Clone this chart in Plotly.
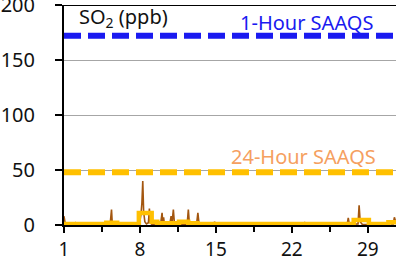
import plotly.graph_objects as go

# ---- data ----
x_tick_days = [1, 8, 15, 22, 29]
y_ticks = [0, 50, 100, 150, 200]

# hourly SO2 (ppb): day-of-month position and value
hourly_day = [1.0, 1.04, 1.12, 1.3, 1.9, 2.05, 2.2, 4.0, 5.25, 5.38, 5.45, 5.6, 7.0,
              7.95, 8.1, 8.18, 8.26, 8.34, 8.45, 8.6, 8.78, 8.87, 8.95, 9.1, 9.3, 9.4,
              9.5, 9.9, 10.04, 10.1, 10.18, 10.25, 10.35, 10.75, 10.87, 10.95, 11.08,
              11.18, 11.4, 12.35, 12.46, 12.56, 13.22, 13.34, 13.45, 14.8, 14.88, 14.96,
              18.0, 20.8, 20.9, 21.0, 23.1, 23.2, 23.3, 25.0, 27.1, 27.2, 27.3, 28.1,
              28.2, 28.3, 28.4, 28.5, 30.0, 30.9, 31.05, 31.2, 31.35, 31.45, 31.6]
hourly_ppb = [8, 3, 0.5, 0.3, 0.3, 2, 0.3, 0.3, 0.3, 14, 1, 0.3, 0.3,
              0.5, 10, 20, 40, 12, 3, 1, 2, 15, 2, 0.5, 0.5, 3,
              0.5, 0.5, 11, 2, 7, 1, 0.5, 0.5, 8, 1, 14,
              1, 0.5, 0.5, 14, 0.5, 0.5, 11, 0.5, 0.5, 3, 0.5,
              0.3, 0.3, 1.5, 0.3, 0.3, 2, 0.3, 0.3, 0.5, 6.5, 0.5, 1,
              18, 3, 2, 0.5, 0.5, 0.5, 3, 1, 1, 7, 2]

# 24-hour average (ppb), step values starting at each day position
avg_day = [1.0, 4.9, 5.9, 7.9, 9.08, 9.6, 11.6, 12.45, 13.3, 27.7, 29.1, 30.9, 31.6]
avg_ppb = [0.8, 2, 0.8, 11, 3, 1.5, 3, 1.5, 0.8, 4.5, 1, 2.5, 2.5]

saaqs_1h = 172
saaqs_24h = 48

FONT = "Noto Sans"
BROWN = "#a3560f"
GOLD = "#ffc000"
BLUE = "#1a1af0"

fig = go.Figure()
fig.add_trace(go.Scatter(x=hourly_day, y=hourly_ppb, mode="lines",
                         line=dict(color=BROWN, width=1.6), hoverinfo="skip",
                         showlegend=False))
fig.add_trace(go.Scatter(x=avg_day, y=avg_ppb, mode="lines",
                         line=dict(color=GOLD, width=4.5, shape="hv"),
                         hoverinfo="skip", showlegend=False))

# limit lines
fig.add_shape(type="line", xref="paper", x0=0, x1=1, yref="y",
              y0=saaqs_1h, y1=saaqs_1h,
              line=dict(color=BLUE, width=6, dash="17px,7px"))
fig.add_shape(type="line", xref="paper", x0=0, x1=1, yref="y",
              y0=saaqs_24h, y1=saaqs_24h,
              line=dict(color=GOLD, width=6, dash="17px,7px"))
# top frame line
fig.add_shape(type="line", xref="paper", x0=0, x1=1, yref="y",
              y0=200, y1=200, line=dict(color="black", width=2))

fig.add_annotation(text="SO<sub>2</sub> (ppb)", xref="paper", x=0.038, y=189,
                   xanchor="left", yanchor="middle", showarrow=False,
                   font=dict(family=FONT, size=20, color="#111111"))
fig.add_annotation(text="1-Hour SAAQS", xref="paper", x=0.73, y=184,
                   xanchor="center", yanchor="middle", showarrow=False,
                   font=dict(family=FONT, size=20, color=BLUE))
fig.add_annotation(text="24-Hour SAAQS", xref="paper", x=0.72, y=62,
                   xanchor="center", yanchor="middle", showarrow=False,
                   font=dict(family=FONT, size=20, color="#f5a060"))

fig.update_xaxes(range=[1, 31.6], tickvals=x_tick_days, ticktext=[str(d) for d in x_tick_days],
                 showgrid=False, zeroline=False, showline=True, linecolor="black",
                 linewidth=2, ticks="outside", ticklen=6, tickwidth=2, tickcolor="black",
                 minor=dict(ticks="outside", tick0=1, dtick=3.5, ticklen=5,
                            tickwidth=2, tickcolor="black"),
                 automargin=False, ticklabeloverflow="allow",
                 tickfont=dict(family=FONT, size=19, color="#111111"))
fig.update_yaxes(range=[0, 200], tickvals=y_ticks, showgrid=True, gridcolor="#a6a6a6",
                 gridwidth=1, zeroline=False, showline=True, linecolor="black",
                 linewidth=2, ticks="outside", ticklen=7, tickwidth=2, tickcolor="black",
                 ticklabelstandoff=16, automargin=False, ticklabeloverflow="allow",
                 tickfont=dict(family=FONT, size=20, color="#111111"))

fig.update_layout(width=396, height=258, margin=dict(l=64, r=0, t=5, b=33),
                  paper_bgcolor="white", plot_bgcolor="white")

fig.write_html("out.html", config={"displayModeBar": False},
               post_script="document.body.style.margin='0';document.body.style.overflow='hidden';")
